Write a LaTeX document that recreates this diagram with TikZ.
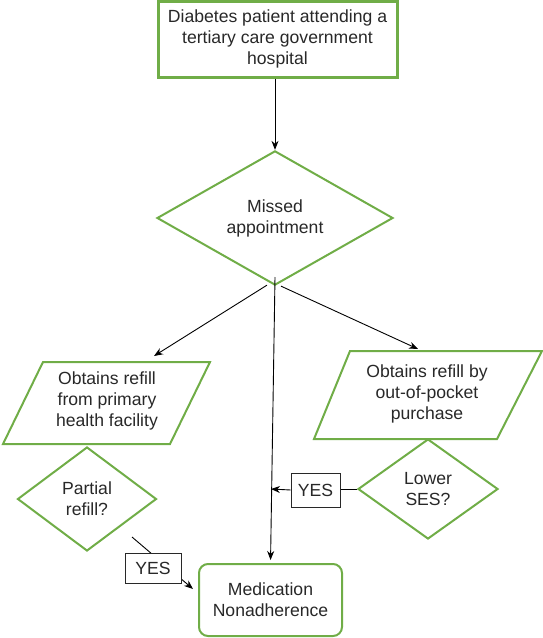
\documentclass[tikz,border=0pt]{standalone}
\usepackage{fontspec}
\setmainfont{Liberation Sans}
\usetikzlibrary{shapes.geometric,arrows.meta}
\definecolor{gr}{RGB}{112,173,71}
\definecolor{tx}{RGB}{40,40,40}
\begin{document}
\begin{tikzpicture}[x=1pt,y=-1pt,
  every node/.style={font=\fontsize{17.6}{21}\selectfont, align=center, text=tx},
  gbox/.style={draw=gr, line width=3pt, minimum width=239pt, minimum height=76pt, inner sep=0pt},
  gdia/.style={draw=gr, line width=2pt, diamond, inner sep=0pt},
  gline/.style={draw=gr, line width=2pt, line join=miter},
  arr/.style={-{Stealth[length=9pt,width=7pt]}, line width=0.9pt, black},
  plain/.style={line width=0.9pt, black},
  yesbox/.style={draw=tx, line width=0.7pt, fill=white, inner sep=0pt}]
\useasboundingbox (0,0) rectangle (543,638);

% nodes
\node[gbox] (top) at (277.5,39) {Diabetes patient attending a\\tertiary care government\\hospital};
\node[gdia, minimum width=236pt, minimum height=100pt] (miss) at (275,218) {Missed\\appointment};

\draw[gline] (43,362) -- (210,362) -- (170,444) -- (3,444) -- cycle;
\node (lp) at (107,401) {Obtains refill\\from primary\\health facility};
\draw[gline] (350,351) -- (542,351) -- (497,439) -- (314,439) -- cycle;
\node (rp) at (427,394) {Obtains refill by\\out-of-pocket\\purchase};

\node[gdia, minimum width=139pt, minimum height=104pt] (pr) at (87,499) {Partial\\refill?};
\node[gdia, minimum width=140pt, minimum height=100pt] (ses) at (428,489) {Lower\\SES?};

\node[draw=gr, line width=2pt, rounded corners=9pt, minimum width=143pt, minimum height=72pt, inner sep=0pt] (med) at (270.5,600) {Medication\\Nonadherence};

% coordinates
\coordinate (lpin) at (154,356);
\coordinate (rpin) at (418,349);
\coordinate (cs) at (275,277);
\coordinate (cm) at (271,489);
\coordinate (ps) at (132,537);
\coordinate (pe) at (193,589);

% connectors
\draw[arr] (miss.north |- top.south) -- (miss.north);
\draw[arr] (miss.south) ++(-8,-1) coordinate (ml) -- (lpin);
\draw[arr] (miss.south) ++(6,0) coordinate (mr) -- (rpin);
\draw[arr, shorten >=3pt] (cs) -- (med.north);

\draw[plain] (ses.west) -- (340,489) coordinate (ye);
\node[yesbox, minimum width=49pt, minimum height=34pt] (yes2) at (315.5,490) {YES};
\draw[arr] (yes2.west) -- (cm);

\draw[arr] (ps) -- (pe);
\node[yesbox, minimum width=56pt, minimum height=30pt] (yes1) at (153,568) {YES};
\end{tikzpicture}
\end{document}
